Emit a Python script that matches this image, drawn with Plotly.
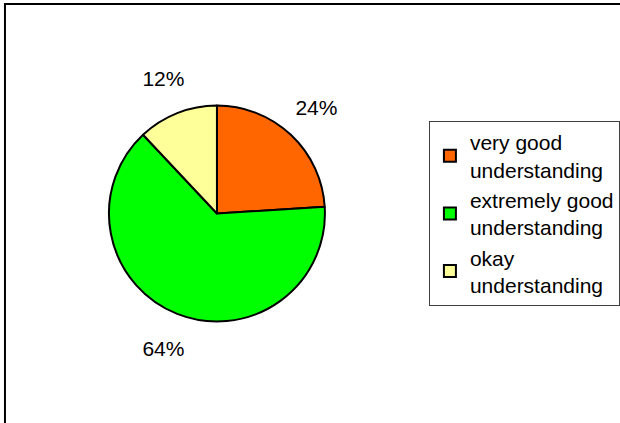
import plotly.graph_objects as go

categories = ["very good<br>understanding", "extremely good<br>understanding", "okay<br>understanding"]
values = [24, 64, 12]
colors = ["#FF6600", "#00FF00", "#FFFF99"]

W, H = 620, 423
CX, CY, R = 218, 213.5, 108.5   # pie centre and radius in pixels
RL = 178                          # outer radius of the label ring
HOLE = 2 * 146 / RL - 1           # label centres at ~146 px from centre

FONT = "Liberation Sans, Arial"

pie = go.Pie(
    labels=categories,
    values=values,
    sort=False,
    direction="clockwise",
    rotation=0,
    marker=dict(colors=colors, line=dict(color="black", width=2)),
    textinfo="none",
    domain=dict(x=[(CX - R) / W, (CX + R) / W], y=[(H - CY - R) / H, (H - CY + R) / H]),
    hoverinfo="label+percent",
)

labels_ring = go.Pie(
    labels=categories,
    values=values,
    sort=False,
    direction="clockwise",
    rotation=0,
    hole=HOLE,
    marker=dict(colors=["rgba(0,0,0,0)"] * len(values), line=dict(width=0)),
    textinfo="percent",
    textposition="inside",
    insidetextorientation="horizontal",
    insidetextfont=dict(family=FONT, size=21, color="black"),
    domain=dict(x=[(CX - RL) / W, (CX + RL) / W], y=[(H - CY - RL) / H, (H - CY + RL) / H]),
    showlegend=False,
    hoverinfo="skip",
)

fig = go.Figure([pie, labels_ring])

fig.update_layout(
    width=W, height=H,
    margin=dict(l=0, r=0, t=0, b=0),
    paper_bgcolor="white",
    font=dict(family=FONT, size=21, color="black"),
    legend=dict(
        x=431 / W, y=(H - 213.5) / H, xanchor="left", yanchor="middle",
        bordercolor="#404040", borderwidth=1,
        font=dict(size=21),
        itemwidth=30,
    ),
    shapes=[dict(type="rect", xref="paper", yref="paper",
                 x0=5 / W, y0=-0.1, x1=1.1, y1=(H - 4) / H,
                 line=dict(color="black", width=2))],
)

fig.write_html("out.html", config={"displayModeBar": False},
               post_script="document.body.style.margin='0px';")
